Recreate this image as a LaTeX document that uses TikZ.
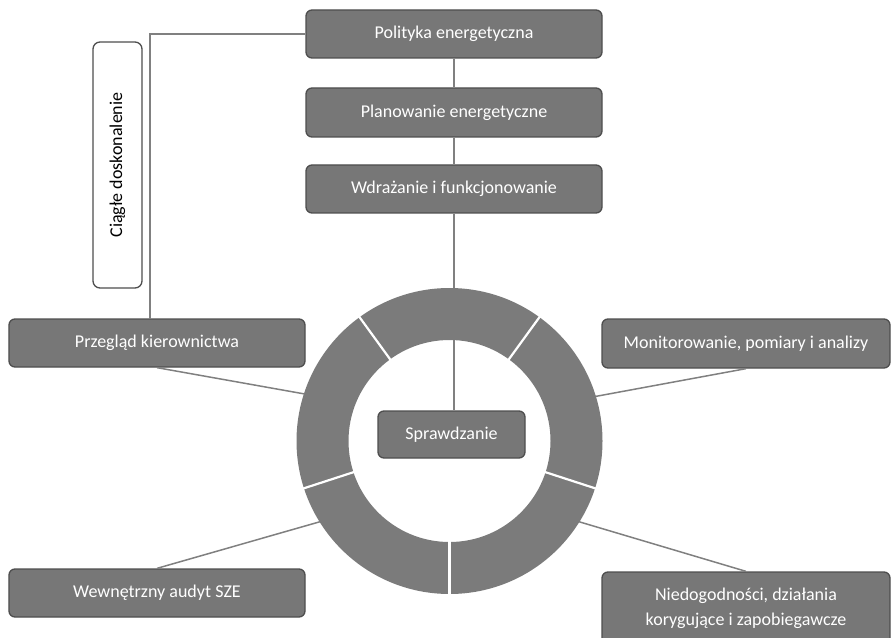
\documentclass[tikz,border=0pt]{standalone}
\usepackage{fontspec}
\setmainfont{Carlito}
\definecolor{boxfill}{HTML}{777777}
\definecolor{boxline}{HTML}{4E4E4E}
\definecolor{ringfill}{HTML}{7B7B7B}
\definecolor{linegray}{HTML}{808080}
\begin{document}
\begin{tikzpicture}[x=1bp,y=-1bp,
  box/.style={draw=boxline, fill=boxfill, line width=1.3bp, rounded corners=6bp,
    text=white, font=\fontsize{18bp}{25bp}\selectfont, align=center, inner sep=0pt},
  sidebox/.style={draw=boxline, fill=white, line width=1.3bp, rounded corners=7bp,
    text=black, font=\fontsize{18bp}{22bp}\selectfont, inner sep=0pt},
  conn/.style={draw=linegray, line width=1.5bp},
  sep/.style={draw=white, line width=2.2bp}]
\useasboundingbox (0,0) rectangle (891,638);

% boxes
\node[box, minimum width=296bp, minimum height=48bp] (pol) at (454,34) {Polityka energetyczna};
\node[box, minimum width=296bp, minimum height=49bp] (plan) at (454,112.5) {Planowanie energetyczne};
\node[box, minimum width=296bp, minimum height=48bp] (wdr) at (454,189) {Wdrażanie i funkcjonowanie};
\node[box, minimum width=296bp, minimum height=48bp] (prz) at (157,343) {Przegląd kierownictwa};
\node[box, minimum width=296bp, minimum height=48bp] (wew) at (157,593) {Wewnętrzny audyt SZE};
\node[box, minimum width=288bp, minimum height=49bp] (mon) at (746,343.5) {Monitorowanie, pomiary i analizy};
\node[box, minimum width=288bp, minimum height=72bp] (nie) at (746,608) {Niedogodności, działania\\korygujące i zapobiegawcze};
\node[sidebox, rotate=90, minimum width=246bp, minimum height=49bp] (ciag) at (117.5,165) {Ciągłe doskonalenie};
\node[box, minimum width=147bp, minimum height=47bp] (spr) at (451.5,434.5) {Sprawdzanie};

\coordinate (c) at (449.5,441);
\coordinate (pk) at (150,319);

% connectors
\draw[conn] (pol.west) -| (pk);
\draw[conn] (pol.south) -- (plan.north);
\draw[conn] (plan.south) -- (wdr.north);
\draw[conn] (wdr.south) -- (wdr.south |- spr.north);
\draw[conn] (prz.south) -- ([shift={(-162:152)}]c);
\draw[conn] (wew.north) -- ([shift={(-212:152)}]c);
\draw[conn] (mon.south) -- ([shift={(-17:152)}]c);
\draw[conn] (nie.north) -- ([shift={(32:152)}]c);

% ring
\fill[ringfill, even odd rule] (c) circle[radius=153] (c) circle[radius=101];
\foreach \a in {-54,-126,-198,-270,-342}
  \draw[sep] ([shift={(\a:99)}]c) -- ([shift={(\a:155)}]c);
\end{tikzpicture}
\end{document}
